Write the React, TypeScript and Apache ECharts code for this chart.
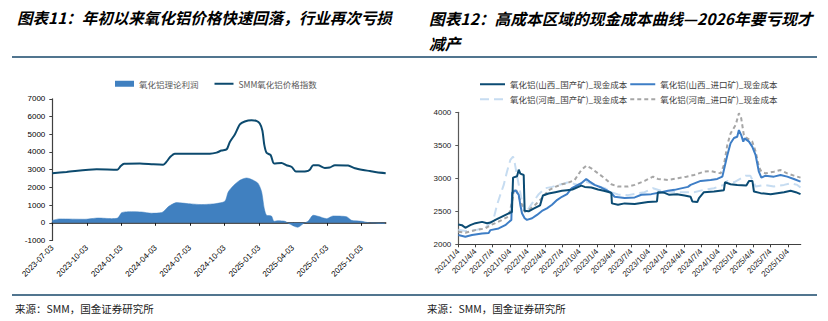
import React, { useEffect, useRef } from 'react';
import * as echarts from 'echarts';

// ---------- Left chart (图表11) ----------
const leftTickLabels = ['2023-07-03', '2023-10-03', '2024-01-03', '2024-04-03', '2024-07-03', '2024-10-03', '2025-01-03', '2025-04-03', '2025-07-03', '2025-10-03'];

const profitDates = ['2023-07-03', '2023-07-23', '2023-09-28', '2023-11-02', '2023-12-08', '2023-12-24', '2024-01-04', '2024-01-30', '2024-02-26', '2024-03-23', '2024-04-19', '2024-05-08', '2024-05-29', '2024-06-29', '2024-08-03', '2024-09-08', '2024-10-04', '2024-10-13', '2024-10-26', '2024-11-13', '2024-12-01', '2024-12-19', '2025-01-01', '2025-01-10', '2025-01-17', '2025-01-23', '2025-02-05', '2025-02-12', '2025-02-23', '2025-03-13', '2025-03-22', '2025-04-16', '2025-05-01', '2025-05-14', '2025-05-27', '2025-06-09', '2025-07-02', '2025-07-19', '2025-08-24', '2025-09-06', '2025-10-03', '2025-10-20', '2025-10-29', '2025-12-04'];
const profitValues = [140, 220, 200, 270, 235, 270, 575, 630, 610, 540, 575, 930, 1140, 1080, 1030, 1080, 1215, 1740, 2080, 2400, 2530, 2400, 2210, 1740, 800, 425, 385, 85, 120, 85, -30, -255, -45, 100, 425, 370, 235, 385, 340, 140, 85, 10, -10, -45];

const priceDates = ['2023-07-03', '2023-08-10', '2023-10-29', '2023-12-23', '2024-01-01', '2024-01-10', '2024-02-21', '2024-03-28', '2024-04-23', '2024-05-02', '2024-05-11', '2024-05-24', '2024-08-25', '2024-09-12', '2024-09-25', '2024-10-09', '2024-10-17', '2024-10-31', '2024-11-13', '2024-11-26', '2024-12-14', '2024-12-27', '2025-01-05', '2025-01-12', '2025-01-17', '2025-01-23', '2025-02-03', '2025-02-12', '2025-03-04', '2025-03-17', '2025-03-31', '2025-04-11', '2025-05-09', '2025-05-18', '2025-05-27', '2025-06-09', '2025-06-27', '2025-07-10', '2025-07-24', '2025-08-28', '2025-09-15', '2025-10-07', '2025-10-25', '2025-11-12', '2025-12-06'];
const priceValues = [2800, 2870, 3020, 3000, 3200, 3330, 3350, 3300, 3280, 3450, 3700, 3900, 3900, 3960, 4080, 4150, 4550, 5000, 5550, 5720, 5790, 5750, 5600, 5200, 4400, 3950, 3820, 3350, 3380, 3250, 3150, 2890, 2910, 3000, 3250, 3250, 3100, 3120, 3250, 3230, 3080, 2980, 2920, 2850, 2800];

// ---------- Right chart (图表12) ----------
const rightTickLabels = ['2021/1/4', '2021/4/4', '2021/7/4', '2021/10/4', '2022/1/4', '2022/4/4', '2022/7/4', '2022/10/4', '2023/1/4', '2023/4/4', '2023/7/4', '2023/10/4', '2024/1/4', '2024/4/4', '2024/7/4', '2024/10/4', '2025/1/4', '2025/4/4', '2025/7/4', '2025/10/4'];

const sxDomDates = ['2021-01-04', '2021-01-23', '2021-02-10', '2021-03-08', '2021-04-04', '2021-05-09', '2021-06-04', '2021-06-22', '2021-07-18', '2021-08-22', '2021-09-26', '2021-10-13', '2021-10-19', '2021-11-09', '2021-11-18', '2021-11-26', '2021-12-14', '2021-12-19', '2022-01-09', '2022-02-04', '2022-03-10', '2022-03-25', '2022-04-24', '2022-05-29', '2022-07-03', '2022-07-30', '2022-08-27', '2022-10-13', '2022-10-31', '2022-12-05', '2023-01-09', '2023-02-08', '2023-03-20', '2023-03-23', '2023-04-24', '2023-05-29', '2023-07-21', '2023-09-29', '2023-11-15', '2023-11-20', '2023-12-25', '2024-01-19', '2024-02-28', '2024-04-08', '2024-05-10', '2024-05-19', '2024-06-14', '2024-06-23', '2024-07-19', '2024-09-10', '2024-11-01', '2024-11-07', '2024-12-06', '2025-01-10', '2025-02-27', '2025-03-13', '2025-03-31', '2025-04-08', '2025-05-13', '2025-07-05', '2025-09-13', '2025-10-18', '2025-11-14', '2025-12-09'];
const sxDomValues = [2300, 2290, 2250, 2290, 2320, 2340, 2320, 2330, 2370, 2420, 2470, 2490, 3010, 3030, 3130, 3070, 3050, 2510, 2500, 2540, 2590, 2740, 2770, 2790, 2810, 2820, 2830, 2890, 2870, 2860, 2830, 2810, 2780, 2620, 2600, 2620, 2610, 2640, 2650, 2790, 2780, 2750, 2760, 2740, 2720, 2650, 2640, 2700, 2790, 2800, 2820, 2940, 2910, 2900, 2890, 2960, 2960, 2800, 2775, 2760, 2790, 2810, 2790, 2760];

const sxImpDates = ['2021-01-04', '2021-02-10', '2021-03-17', '2021-05-09', '2021-06-13', '2021-06-22', '2021-08-04', '2021-09-08', '2021-10-10', '2021-10-14', '2021-10-31', '2021-11-18', '2021-11-26', '2021-12-05', '2021-12-19', '2021-12-31', '2022-01-27', '2022-02-22', '2022-03-20', '2022-04-15', '2022-05-12', '2022-06-07', '2022-07-03', '2022-07-30', '2022-08-24', '2022-10-13', '2022-11-08', '2022-11-26', '2022-12-22', '2023-01-26', '2023-03-02', '2023-03-20', '2023-04-06', '2023-05-29', '2023-07-21', '2023-08-25', '2023-10-16', '2023-12-08', '2024-01-12', '2024-02-16', '2024-03-09', '2024-04-26', '2024-05-10', '2024-07-02', '2024-08-23', '2024-09-27', '2024-10-24', '2024-11-01', '2024-11-19', '2024-12-06', '2024-12-24', '2025-01-10', '2025-01-19', '2025-01-31', '2025-02-11', '2025-02-18', '2025-03-13', '2025-03-30', '2025-04-17', '2025-05-04', '2025-05-17', '2025-06-08', '2025-07-22', '2025-08-26', '2025-09-30', '2025-11-04', '2025-12-09'];
const sxImpValues = [2140, 2115, 2140, 2165, 2170, 2215, 2240, 2290, 2370, 2780, 2820, 2750, 2600, 2470, 2395, 2370, 2395, 2445, 2505, 2545, 2600, 2670, 2720, 2760, 2850, 2925, 2990, 2950, 2900, 2860, 2810, 2775, 2720, 2700, 2710, 2750, 2760, 2790, 2810, 2825, 2840, 2870, 2900, 2960, 2975, 2990, 3025, 3126, 3350, 3530, 3610, 3630, 3730, 3655, 3555, 3605, 3555, 3480, 3350, 3100, 3010, 3040, 3025, 3050, 3025, 2990, 2950];

const hnDomDates = ['2021-01-04', '2021-02-10', '2021-04-04', '2021-05-26', '2021-06-13', '2021-07-09', '2021-07-27', '2021-08-13', '2021-08-31', '2021-09-17', '2021-10-05', '2021-10-19', '2021-10-28', '2021-11-05', '2021-11-20', '2021-12-05', '2021-12-23', '2022-01-27', '2022-03-03', '2022-04-07', '2022-05-12', '2022-06-16', '2022-07-21', '2022-08-04', '2022-09-26', '2022-11-08', '2022-12-22', '2023-02-13', '2023-03-20', '2023-04-24', '2023-06-16', '2023-09-11', '2023-10-25', '2023-12-08', '2024-03-04', '2024-05-28', '2024-07-19', '2024-09-10', '2024-11-01', '2024-11-19', '2024-12-24', '2025-02-23', '2025-03-20', '2025-04-17', '2025-05-31', '2025-07-22', '2025-09-13', '2025-10-18', '2025-11-22', '2025-12-09'];
const hnDomValues = [2220, 2200, 2215, 2250, 2300, 2390, 2600, 2750, 2900, 3100, 3280, 3330, 3230, 3100, 2870, 2650, 2470, 2620, 2760, 2850, 2870, 2900, 2925, 2940, 2900, 2945, 2900, 2850, 2790, 2755, 2745, 2790, 2850, 2810, 2790, 2790, 2825, 2850, 2900, 2960, 2940, 3040, 3040, 2875, 2900, 2875, 2900, 2925, 2900, 2860];

const hnImpDates = ['2021-01-04', '2021-02-10', '2021-04-04', '2021-05-26', '2021-06-22', '2021-07-18', '2021-08-22', '2021-09-26', '2021-10-13', '2021-10-22', '2021-10-31', '2021-11-09', '2021-11-18', '2021-12-05', '2021-12-19', '2022-01-09', '2022-02-13', '2022-03-20', '2022-04-24', '2022-05-29', '2022-07-03', '2022-07-30', '2022-09-08', '2022-10-13', '2022-11-08', '2022-12-05', '2023-01-09', '2023-02-13', '2023-03-20', '2023-04-24', '2023-06-16', '2023-07-21', '2023-09-11', '2023-10-25', '2023-11-20', '2024-01-12', '2024-03-04', '2024-04-18', '2024-05-28', '2024-07-19', '2024-08-23', '2024-10-15', '2024-11-01', '2024-11-19', '2024-12-06', '2025-01-02', '2025-01-19', '2025-01-31', '2025-02-14', '2025-03-04', '2025-03-30', '2025-04-17', '2025-05-04', '2025-05-17', '2025-06-08', '2025-07-22', '2025-08-26', '2025-09-30', '2025-11-04', '2025-12-09'];
const hnImpValues = [2190, 2175, 2215, 2240, 2290, 2320, 2370, 2420, 2640, 2800, 2840, 2800, 2720, 2600, 2495, 2520, 2600, 2700, 2820, 2870, 2910, 2925, 2975, 3125, 3190, 3150, 3075, 3000, 2910, 2875, 2875, 2900, 2960, 3025, 2990, 2975, 3000, 3025, 3050, 3100, 3110, 3075, 3200, 3505, 3680, 3810, 3985, 3910, 3655, 3605, 3555, 3405, 3175, 3100, 3075, 3100, 3125, 3075, 3040, 3010];

const CJK = '"Noto Sans CJK SC", "Noto Sans", sans-serif';
const NUM = '"Liberation Sans", Arial, sans-serif';

const parse = (s: string) => echarts.number.parseDate(s.replace(/\//g, '-')).getTime();
const pad = (n: number) => (n < 10 ? '0' + n : '' + n);
const zip = (d: string[], v: number[]) => d.map((x, i) => [parse(x), v[i]]);

export default function App() {
  const ref = useRef<HTMLDivElement>(null);
  useEffect(() => {
    if (!ref.current) return;
    const chart = echarts.init(ref.current, undefined, { renderer: 'svg' });
    const leftTicks = leftTickLabels.map(parse);
    const rightTicks = rightTickLabels.map(parse);
    const plain = (v: number) => String(v);
    const option: any = {
      animation: false,
      backgroundColor: '#ffffff',
      grid: [
        { left: 52.3, top: 98.8, width: 333.4, height: 141.7 },
        { left: 458.3, top: 112.3, width: 342.4, height: 132 },
      ],
      legend: [
        {
          left: 110, top: 74.5, itemWidth: 19, itemHeight: 6, itemGap: 15,
          itemStyle: { opacity: 0 },
          textStyle: { fontSize: 8.5, color: '#595959', fontFamily: CJK },
          data: [{ name: '氧化铝理论利润', icon: 'rect', itemStyle: { opacity: 1 } }, { name: 'SMM氧化铝价格指数' }],
        },
        {
          left: 474, top: 75, itemWidth: 25, itemHeight: 8, itemGap: 2,
          itemStyle: { opacity: 0 },
          textStyle: { fontSize: 8.5, color: '#404040', fontFamily: CJK },
          data: ['氧化铝(山西_国产矿)_现金成本', '氧化铝(山西_进口矿)_现金成本'],
        },
        {
          left: 474, top: 90, itemWidth: 25, itemHeight: 8, itemGap: 2,
          itemStyle: { opacity: 0 },
          textStyle: { fontSize: 8.5, color: '#404040', fontFamily: CJK },
          data: ['氧化铝(河南_国产矿)_现金成本', '氧化铝(河南_进口矿)_现金成本'],
        },
      ],
      xAxis: [
        {
          type: 'value', gridIndex: 0, position: 'bottom', scale: true,
          min: parse('2023-07-03'), max: parse('2025-12-06'),
          axisLine: { show: false, onZero: false },
          axisTick: { show: false },
          splitLine: { show: false },
          axisLabel: {
            customValues: leftTicks, rotate: 45, margin: 6, fontSize: 8, color: '#000', fontFamily: NUM,
            formatter: (v: number) => { const d = new Date(v); return `${d.getFullYear()}-${pad(d.getMonth() + 1)}-${pad(d.getDate())}`; },
          },
        },
        {
          type: 'value', gridIndex: 0, position: 'bottom', scale: true,
          min: parse('2023-07-03'), max: parse('2025-12-06'),
          axisLine: { show: true, onZero: true, lineStyle: { color: '#1a1a1a', width: 1.5 } },
          axisTick: { show: true, customValues: leftTicks, length: 3, lineStyle: { color: '#1a1a1a' } },
          axisLabel: { show: false },
          splitLine: { show: false },
        },
        {
          type: 'value', gridIndex: 1, position: 'bottom', scale: true,
          min: parse('2021-01-04'), max: parse('2025-12-10'),
          axisLine: { show: true, onZero: false, lineStyle: { color: '#404040', width: 1.2 } },
          axisTick: { show: true, customValues: rightTicks, length: 3, lineStyle: { color: '#404040' } },
          splitLine: { show: false },
          axisLabel: {
            customValues: rightTicks, rotate: 45, margin: 6, fontSize: 8, color: '#222', fontFamily: NUM,
            formatter: (v: number) => { const d = new Date(v); return `${d.getFullYear()}/${d.getMonth() + 1}/${d.getDate()}`; },
          },
        },
      ],
      yAxis: [
        {
          type: 'value', gridIndex: 0, min: -1000, max: 7000, interval: 1000,
          axisLine: { show: true, lineStyle: { color: '#404040', width: 1.2 } },
          axisTick: { show: true, length: 3, lineStyle: { color: '#404040' } },
          splitLine: { show: false },
          axisLabel: { fontSize: 8, color: '#000', margin: 7, fontFamily: NUM, formatter: plain },
        },
        {
          type: 'value', gridIndex: 1, min: 2000, max: 4000, interval: 500,
          axisLine: { show: true, lineStyle: { color: '#595959', width: 1.2 } },
          axisTick: { show: true, length: 3, lineStyle: { color: '#595959' } },
          splitLine: { show: false },
          axisLabel: { fontSize: 8, color: '#222', margin: 7, fontFamily: NUM, formatter: plain },
        },
      ],
      series: [
        {
          name: '氧化铝理论利润', type: 'line', xAxisIndex: 0, yAxisIndex: 0,
          data: zip(profitDates, profitValues), symbol: 'none', smooth: 0.25,
          color: '#4080c0', itemStyle: { color: '#4080c0' },
          lineStyle: { width: 0.5, color: '#4080c0' },
          areaStyle: { color: '#4080c0', opacity: 1 },
        },
        {
          name: 'SMM氧化铝价格指数', type: 'line', xAxisIndex: 0, yAxisIndex: 0,
          data: zip(priceDates, priceValues), symbol: 'none', smooth: 0.25,
          color: '#0c4a6e', lineStyle: { width: 2, color: '#0c4a6e' },
        },
        {
          name: '氧化铝(山西_国产矿)_现金成本', type: 'line', xAxisIndex: 2, yAxisIndex: 1,
          data: zip(sxDomDates, sxDomValues), symbol: 'none',
          color: '#0b4b73', lineStyle: { width: 2, color: '#0b4b73' }, z: 5,
        },
        {
          name: '氧化铝(山西_进口矿)_现金成本', type: 'line', xAxisIndex: 2, yAxisIndex: 1,
          data: zip(sxImpDates, sxImpValues), symbol: 'none',
          color: '#3e7ec6', lineStyle: { width: 2, color: '#3e7ec6' }, z: 4,
        },
        {
          name: '氧化铝(河南_国产矿)_现金成本', type: 'line', xAxisIndex: 2, yAxisIndex: 1,
          data: zip(hnDomDates, hnDomValues), symbol: 'none',
          color: '#c6dcf1', lineStyle: { width: 2, color: '#c6dcf1', type: [9, 5] }, z: 2,
        },
        {
          name: '氧化铝(河南_进口矿)_现金成本', type: 'line', xAxisIndex: 2, yAxisIndex: 1,
          data: zip(hnImpDates, hnImpValues), symbol: 'none',
          color: '#a6a6a6', lineStyle: { width: 2, color: '#a6a6a6', type: [4, 3] }, z: 3,
        },
      ],
      graphic: [
        {
          type: 'text', x: 17, y: 17,
          style: { text: '图表11：年初以来氧化铝价格快速回落，行业再次亏损', font: `italic bold 15.5px ${CJK}`, fill: '#000', verticalAlign: 'middle' },
        },
        {
          type: 'text', x: 429, y: 5.5,
          style: { text: '图表12：高成本区域的现金成本曲线—2026年要亏现才\n减产', font: `italic bold 15.7px ${CJK}`, lineHeight: 25, fill: '#000', verticalAlign: 'top' },
        },
        { type: 'line', shape: { x1: 12, y1: 57, x2: 817, y2: 57 }, style: { stroke: '#17476a', lineWidth: 1.5 } },
        { type: 'line', shape: { x1: 12, y1: 295, x2: 817, y2: 295 }, style: { stroke: '#17476a', lineWidth: 1.5 } },
        {
          type: 'text', x: 15, y: 308,
          style: { text: '来源：SMM，国金证券研究所', font: `10.5px ${CJK}`, fill: '#1a1a1a', verticalAlign: 'middle' },
        },
        {
          type: 'text', x: 427, y: 308,
          style: { text: '来源：SMM，国金证券研究所', font: `10.5px ${CJK}`, fill: '#1a1a1a', verticalAlign: 'middle' },
        },
      ],
    };
    chart.setOption(option);
    return () => chart.dispose();
  }, []);
  return (
    <div
      ref={ref}
      style={{ position: 'fixed', left: 0, top: 0, width: 828, height: 321, background: '#fff' }}
    />
  );
}
